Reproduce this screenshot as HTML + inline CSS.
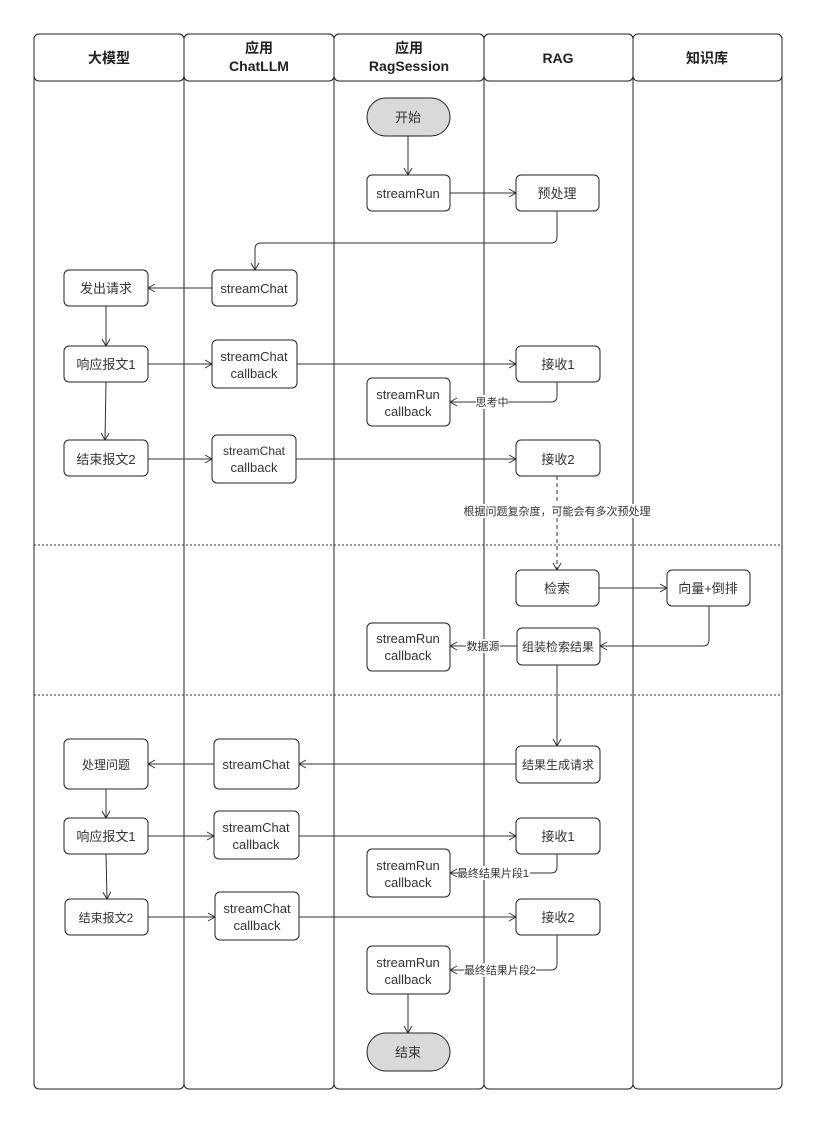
<!DOCTYPE html>
<html><head><meta charset="utf-8"><style>
html,body{margin:0;padding:0;background:#fff}
svg{display:block}
text{font-family:"Liberation Sans","Noto Sans CJK SC",sans-serif;fill:#333;font-size:13px}
.b{fill:#fff;stroke:#222;stroke-width:1}
.l{fill:none;stroke:#333;stroke-width:1}
.h{font-weight:bold;font-size:14px;fill:#222}
.lab{font-size:11px}
</style></head><body>
<svg width="815" height="1124" viewBox="0 0 815 1124" xmlns="http://www.w3.org/2000/svg">
<defs><marker id="a" markerWidth="10" markerHeight="10" refX="8" refY="5" orient="auto" markerUnits="userSpaceOnUse"><path d="M1,1 L8,5 L1,9" fill="none" stroke="#333" stroke-width="1"/></marker></defs>
<!-- lanes -->
<g class="b">
<rect x="34" y="34" width="150" height="1055" rx="5"/>
<rect x="184" y="34" width="150" height="1055" rx="5"/>
<rect x="334" y="34" width="150" height="1055" rx="5"/>
<rect x="484" y="34" width="149" height="1055" rx="5"/>
<rect x="633" y="34" width="149" height="1055" rx="5"/>
<rect x="34" y="34" width="150" height="47" rx="5"/>
<rect x="184" y="34" width="150" height="47" rx="5"/>
<rect x="334" y="34" width="150" height="47" rx="5"/>
<rect x="484" y="34" width="149" height="47" rx="5"/>
<rect x="633" y="34" width="149" height="47" rx="5"/>
</g>
<g text-anchor="middle">
<text class="h" x="109" y="63">大模型</text>
<text class="h" x="259" y="53">应用</text><text class="h" x="259" y="71">ChatLLM</text>
<text class="h" x="409" y="53">应用</text><text class="h" x="409" y="71">RagSession</text>
<text class="h" x="558" y="63">RAG</text>
<text class="h" x="707" y="63">知识库</text>
</g>
<line x1="34" y1="545" x2="782" y2="545" stroke="#333" stroke-dasharray="2,2"/>
<line x1="34" y1="695" x2="782" y2="695" stroke="#333" stroke-dasharray="2,2"/>
<!-- connectors -->
<g class="l">
<path d="M408,136 V175" marker-end="url(#a)"/>
<path d="M450,193 H516" marker-end="url(#a)"/>
<path d="M557,211 V237 Q557,243 551,243 H261 Q255,243 255,249 V270" marker-end="url(#a)"/>
<path d="M212,288 H148" marker-end="url(#a)"/>
<path d="M106,306 V346" marker-end="url(#a)"/>
<path d="M148,364 H212" marker-end="url(#a)"/>
<path d="M297,364 H516" marker-end="url(#a)"/>
<path d="M557,382 V396 Q557,402 551,402 H450" marker-end="url(#a)"/>
<path d="M106,382 L105,440" marker-end="url(#a)"/>
<path d="M148,459 H212" marker-end="url(#a)"/>
<path d="M296,459 H516" marker-end="url(#a)"/>
<path d="M557,476 V570" stroke-dasharray="4,3" marker-end="url(#a)"/>
<path d="M599,588 H667" marker-end="url(#a)"/>
<path d="M709,606 V640 Q709,646 703,646 H600" marker-end="url(#a)"/>
<path d="M517,646 H450" marker-end="url(#a)"/>
<path d="M557,665 V746" marker-end="url(#a)"/>
<path d="M516,764 H299" marker-end="url(#a)"/>
<path d="M214,764 H148" marker-end="url(#a)"/>
<path d="M106,789 V818" marker-end="url(#a)"/>
<path d="M148,836 H214" marker-end="url(#a)"/>
<path d="M299,836 H516" marker-end="url(#a)"/>
<path d="M557,854 V867 Q557,873 551,873 H450" marker-end="url(#a)"/>
<path d="M106,854 L107,899" marker-end="url(#a)"/>
<path d="M148,917 H215" marker-end="url(#a)"/>
<path d="M299,917 H516" marker-end="url(#a)"/>
<path d="M557,935 V964 Q557,970 551,970 H450" marker-end="url(#a)"/>
<path d="M408,994 V1033" marker-end="url(#a)"/>
</g>
<!-- labels on lines -->
<g text-anchor="middle" class="lab">
<rect x="476" y="395" width="32" height="14" fill="#fff"/><text class="lab" x="492" y="406">思考中</text>
<rect x="462" y="504" width="190" height="14" fill="#fff"/><text class="lab" x="557" y="515">根据问题复杂度，可能会有多次预处理</text>
<rect x="466" y="639" width="34" height="14" fill="#fff"/><text class="lab" x="483" y="650">数据源</text>
<rect x="458" y="866" width="72" height="14" fill="#fff"/><text class="lab" x="493" y="877">最终结果片段1</text>
<rect x="464" y="963" width="72" height="14" fill="#fff"/><text class="lab" x="500" y="974">最终结果片段2</text>
</g>
<!-- nodes -->
<g class="b">
<rect x="367" y="98" width="83" height="38" rx="19" fill="#d9d9d9" style="fill:#d9d9d9"/>
<rect x="367" y="175" width="83" height="36" rx="5"/>
<rect x="516" y="175" width="83" height="36" rx="5"/>
<rect x="212" y="270" width="85" height="36" rx="5"/>
<rect x="64" y="270" width="84" height="36" rx="5"/>
<rect x="64" y="346" width="84" height="36" rx="5"/>
<rect x="212" y="340" width="85" height="48" rx="5"/>
<rect x="516" y="346" width="84" height="36" rx="5"/>
<rect x="367" y="378" width="83" height="48" rx="5"/>
<rect x="64" y="440" width="84" height="36" rx="5"/>
<rect x="212" y="435" width="84" height="48" rx="5"/>
<rect x="516" y="440" width="84" height="36" rx="5"/>
<rect x="516" y="570" width="83" height="36" rx="5"/>
<rect x="667" y="570" width="83" height="36" rx="5"/>
<rect x="517" y="628" width="83" height="37" rx="5"/>
<rect x="367" y="623" width="83" height="48" rx="5"/>
<rect x="516" y="746" width="84" height="37" rx="5"/>
<rect x="214" y="739" width="85" height="50" rx="5"/>
<rect x="64" y="739" width="84" height="50" rx="5"/>
<rect x="64" y="818" width="84" height="36" rx="5"/>
<rect x="214" y="811" width="85" height="48" rx="5"/>
<rect x="516" y="818" width="84" height="36" rx="5"/>
<rect x="367" y="849" width="83" height="48" rx="5"/>
<rect x="65" y="899" width="83" height="36" rx="5"/>
<rect x="215" y="892" width="84" height="48" rx="5"/>
<rect x="516" y="899" width="84" height="36" rx="5"/>
<rect x="367" y="946" width="83" height="48" rx="5"/>
<rect x="367" y="1033" width="83" height="38" rx="19" style="fill:#d9d9d9"/>
</g>
<g text-anchor="middle">
<text x="408" y="122">开始</text>
<text x="408" y="198">streamRun</text>
<text x="557" y="198">预处理</text>
<text x="254" y="293">streamChat</text>
<text x="106" y="293">发出请求</text>
<text x="106" y="369">响应报文1</text>
<text x="254" y="361">streamChat</text><text x="254" y="378">callback</text>
<text x="558" y="369">接收1</text>
<text x="408" y="399">streamRun</text><text x="408" y="416">callback</text>
<text x="106" y="464">结束报文2</text>
<text x="254" y="455" style="font-size:12px">streamChat</text><text x="254" y="472">callback</text>
<text x="558" y="464">接收2</text>
<text x="557" y="593">检索</text>
<text x="708" y="593">向量+倒排</text>
<text x="558" y="651" style="font-size:12px">组装检索结果</text>
<text x="408" y="643">streamRun</text><text x="408" y="660">callback</text>
<text x="558" y="769" style="font-size:12px">结果生成请求</text>
<text x="256" y="769">streamChat</text>
<text x="106" y="769" style="font-size:12px">处理问题</text>
<text x="106" y="841">响应报文1</text>
<text x="256" y="832">streamChat</text><text x="256" y="849">callback</text>
<text x="558" y="841">接收1</text>
<text x="408" y="870">streamRun</text><text x="408" y="887">callback</text>
<text x="106" y="922" style="font-size:12px">结束报文2</text>
<text x="257" y="913">streamChat</text><text x="257" y="930">callback</text>
<text x="558" y="922">接收2</text>
<text x="408" y="967">streamRun</text><text x="408" y="984">callback</text>
<text x="408" y="1057">结束</text>
</g>
</svg>
</body></html>
